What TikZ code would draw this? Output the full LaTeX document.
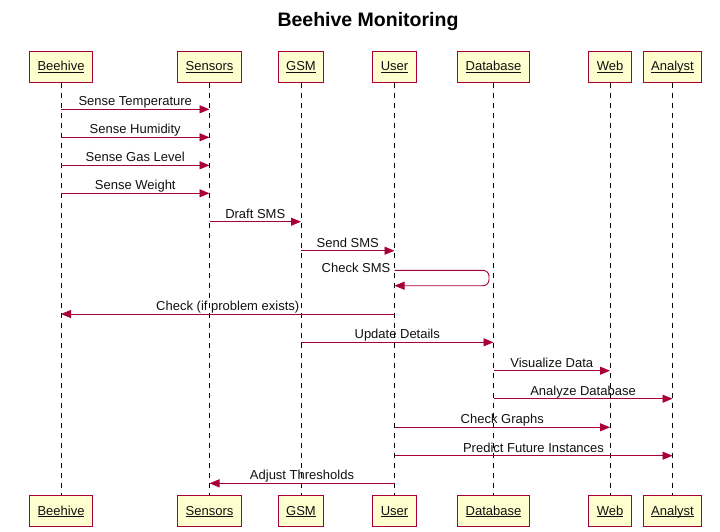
\documentclass[tikz,border=0pt]{standalone}
\usepackage{fontspec}
\setmainfont{Liberation Sans}
\usetikzlibrary{arrows.meta}
\definecolor{frame}{HTML}{A80036}
\definecolor{boxfill}{HTML}{FEFECE}
\definecolor{ink}{HTML}{111111}
\tikzset{
  part/.style={draw=frame, fill=boxfill, line width=1pt, minimum height=31pt, inner xsep=8pt,
    text height=10pt, text depth=2pt, text=ink, font=\fontsize{13}{15}\selectfont},
  life/.style={draw=black, dash pattern=on 5pt off 5pt, line width=0.9pt},
  msg/.style={draw=frame, line width=0.9pt, -{Triangle[length=10pt,width=8pt]}},
  lab/.style={text=ink, font=\fontsize{13}{15}\selectfont, inner sep=0pt, anchor=base, yshift=3.5pt},
  ttl/.style={text=black, font=\bfseries\fontsize{19.5}{22}\selectfont},
}

\begin{document}
\begin{tikzpicture}[x=1pt, y=-1pt]
  \useasboundingbox (0,0) rectangle (720,531);
  \node[ttl] (title) at (368,21) {Beehive Monitoring};
  % participants, top and bottom, with lifelines
  \foreach \n/\t/\x in {bee/Beehive/61, sen/Sensors/209.5, gsm/GSM/301, usr/User/394.5,
                        db/Database/493.5, web/Web/610, ana/Analyst/672.5} {
    \node[part] (\n) at (\x,66.5) {\underline{\smash{\t}}};
    \node[part] (\n-b) at (\x,511) {\underline{\smash{\t}}};
    \draw[life] (\n) -- (\n-b);
  }
  % messages
  \foreach \a/\b/\y/\t in {bee/sen/109.3/Sense Temperature, bee/sen/137.3/Sense Humidity,
                           bee/sen/165.3/Sense Gas Level, bee/sen/193.3/Sense Weight,
                           sen/gsm/221.7/Draft SMS, gsm/usr/250.7/Send SMS,
                           usr/bee/314/Check (if problem exists), gsm/db/342.3/Update Details,
                           db/web/370.7/Visualize Data, db/ana/398.7/Analyze Database,
                           usr/web/427.3/Check Graphs, usr/ana/455.7/Predict Future Instances,
                           usr/sen/483.3/Adjust Thresholds} {
    \draw[msg] (\a |- 0,\y) -- node[lab] {\t} (\b |- 0,\y);
  }
  % self message on User
  \coordinate (turn) at ([xshift=94.5pt]usr |- 0,270.3);
  \draw[msg, rounded corners=6pt] (usr |- 0,270.3) -- (turn) -- (turn |- 0,285.7) -- (usr |- 0,285.7);
  \node[lab, anchor=base east, yshift=0pt] (chk) at ([xshift=-4pt]usr |- 0,275.5) {Check SMS};
\end{tikzpicture}
\end{document}
